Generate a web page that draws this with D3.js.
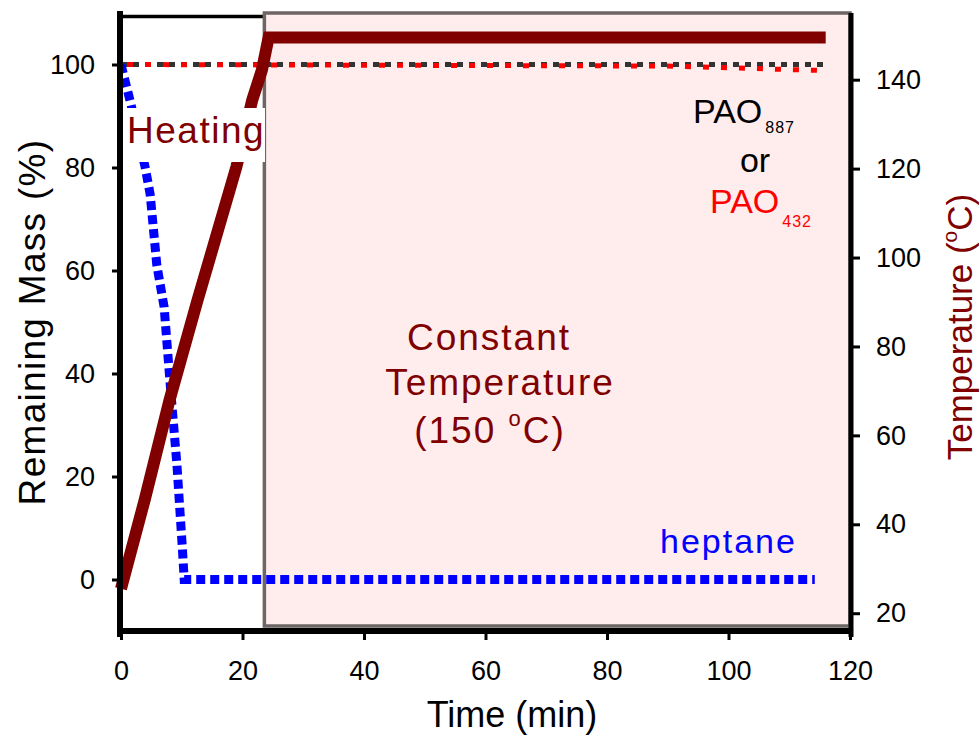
<!DOCTYPE html>
<html>
<head>
<meta charset="utf-8">
<script src="https://cdn.jsdelivr.net/npm/d3@7"></script>
<style>
  body { margin: 0; background: #fff; }
  svg text { font-family: "Liberation Sans", Arial, sans-serif; }
</style>
</head>
<body>
<script>
// values
var heptaneTime = [0, 0.7, 1.65, 2.8, 3.95, 4.8, 5.9, 7.1, 8.2, 9.2, 10.1, 10.4, 114.2];
var heptaneMass = [100, 96.7, 92.2, 86, 80.2, 74.8, 61, 52.9, 36.4, 22.4, 6.1, 0, 0];
var pao887Time = [0, 116.5];
var pao887Mass = [100, 100];
var pao432Time = [0, 90, 116.5];
var pao432Mass = [100, 99.7, 98.8];
var tempTime = [0, 3.9, 8, 12.6, 19, 21.6, 23.2, 24.3, 116];
var tempValue = [25.5, 45.5, 68, 90.4, 120.4, 135.4, 142.2, 149.5, 149.5];
var heatEnd = 23.6; // constant temperature zone starts here
var xTicks = [0, 20, 40, 60, 80, 100, 120];
var massTicks = [0, 20, 40, 60, 80, 100];
var tempTicks = [20, 40, 60, 80, 100, 120, 140];

var darkRed = '#800000';

var svg = d3.select('body').append('svg')
  .attr('width', 979)
  .attr('height', 736);

var x = d3.scaleLinear().domain([0, 120]).range([121, 850]);
var yMass = d3.scaleLinear().domain([-10, 110]).range([631, 13]);
var yTemp = d3.scaleLinear().domain([16, 155]).range([631, 13]);

// top frame line (left part, the pink zone covers the rest)
svg.append('line')
  .attr('x1', 117).attr('x2', x(heatEnd))
  .attr('y1', 16.5).attr('y2', 16.5)
  .attr('stroke', 'black').attr('stroke-width', 3.5);

// constant temperature zone
svg.append('rect')
  .attr('x', x(heatEnd))
  .attr('y', 13)
  .attr('width', x(120) - x(heatEnd))
  .attr('height', 626 - 13)
  .attr('fill', '#ffecec')
  .attr('stroke', '#6e6666')
  .attr('stroke-width', 3.5);

var massLine = function(ts, vs) {
  return d3.line()
    .x(function(d, i) { return x(ts[i]); })
    .y(function(d, i) { return yMass(vs[i]); })(vs);
};

// PAO 887 (black dash) and PAO 432 (red dots)
svg.append('path')
  .attr('d', massLine(pao887Time, pao887Mass))
  .attr('fill', 'none')
  .attr('stroke', '#333')
  .attr('stroke-width', 5)
  .attr('stroke-dasharray', '6,6');
svg.append('path')
  .attr('d', massLine(pao432Time, pao432Mass))
  .attr('fill', 'none')
  .attr('stroke', '#ff0000')
  .attr('stroke-width', 5)
  .attr('stroke-dasharray', '6,12')
  .attr('stroke-dashoffset', -6);

// heptane
svg.append('path')
  .attr('d', massLine(heptaneTime, heptaneMass))
  .attr('fill', 'none')
  .attr('stroke', '#0000ff')
  .attr('stroke-width', 9)
  .attr('stroke-dasharray', '9,5');

// temperature
var tempPath = d3.line()
  .x(function(d, i) { return x(tempTime[i]); })
  .y(function(d) { return yTemp(d); });
svg.append('path')
  .attr('d', tempPath(tempValue))
  .attr('fill', 'none')
  .attr('stroke', darkRed)
  .attr('stroke-width', 12)
  .attr('stroke-linejoin', 'miter');

// Heating label with white box
svg.append('rect')
  .attr('x', 124).attr('y', 108)
  .attr('width', 141).attr('height', 54)
  .attr('fill', 'white');
svg.append('text')
  .attr('x', 127).attr('y', 143)
  .attr('font-size', 37)
  .attr('letter-spacing', 1.5)
  .attr('fill', darkRed)
  .text('Heating');

// frame lines
svg.append('line')
  .attr('x1', 120).attr('x2', 120).attr('y1', 11).attr('y2', 637)
  .attr('stroke', 'black').attr('stroke-width', 6);
svg.append('line')
  .attr('x1', 117).attr('x2', 853).attr('y1', 631).attr('y2', 631)
  .attr('stroke', 'black').attr('stroke-width', 6);
svg.append('line')
  .attr('x1', 851).attr('x2', 851).attr('y1', 13).attr('y2', 637)
  .attr('stroke', 'black').attr('stroke-width', 5);

// axes
var styleAxis = function(g) {
  g.select('.domain').remove();
  g.selectAll('.tick line').attr('stroke', 'black').attr('stroke-width', 3);
  g.selectAll('.tick text')
    .attr('font-size', 27)
    .attr('fill', 'black')
    .style('font-family', '"Liberation Sans", Arial, sans-serif');
};

svg.append('g')
  .attr('transform', 'translate(120,0)')
  .call(d3.axisLeft(yMass).tickValues(massTicks).tickSize(8).tickPadding(17))
  .call(styleAxis);

svg.append('g')
  .attr('transform', 'translate(0,631)')
  .call(d3.axisBottom(x).tickValues(xTicks).tickSize(9).tickPadding(21))
  .call(styleAxis);

svg.append('g')
  .attr('transform', 'translate(851,0)')
  .call(d3.axisRight(yTemp).tickValues(tempTicks).tickSize(9).tickPadding(16))
  .call(styleAxis);

// axis titles
svg.append('text')
  .attr('transform', 'translate(512,727)')
  .attr('text-anchor', 'middle')
  .attr('font-size', 36)
  .text('Time (min)');

svg.append('text')
  .attr('transform', 'translate(45,322) rotate(-90)')
  .attr('text-anchor', 'middle')
  .attr('font-size', 37)
  .attr('letter-spacing', 1.3)
  .text('Remaining Mass (%)');

var tTitle = svg.append('text')
  .attr('transform', 'translate(972,327) rotate(-90)')
  .attr('text-anchor', 'middle')
  .attr('font-size', 35)
  .attr('fill', darkRed);
tTitle.append('tspan').text('Temperature (');
tTitle.append('tspan').attr('dy', -15).attr('font-size', 21).text('o');
tTitle.append('tspan').attr('dy', 15).text('C)');

// annotations
var ct = svg.append('text')
  .attr('font-size', 37)
  .attr('fill', darkRed)
  .attr('text-anchor', 'middle')
  .attr('letter-spacing', 2);
ct.append('tspan').attr('x', 489).attr('y', 350).text('Constant');
ct.append('tspan').attr('x', 500).attr('y', 395).text('Temperature');
ct.append('tspan').attr('x', 490).attr('y', 443).text('(150 ');
ct.append('tspan').attr('dy', -17).attr('font-size', 22).text('o');
ct.append('tspan').attr('dy', 17).text('C)');

var pao1 = svg.append('text').attr('x', 693).attr('y', 123).attr('font-size', 34).attr('fill', 'black');
pao1.append('tspan').text('PAO');
pao1.append('tspan').attr('dy', 10).attr('dx', 3).attr('font-size', 16).attr('letter-spacing', 1).text('887');

svg.append('text').attr('x', 755).attr('y', 172).attr('text-anchor', 'middle')
  .attr('font-size', 34).attr('fill', 'black').text('or');

var pao2 = svg.append('text').attr('x', 710).attr('y', 213).attr('font-size', 34).attr('fill', '#ff0000');
pao2.append('tspan').text('PAO');
pao2.append('tspan').attr('dy', 14).attr('dx', 3).attr('font-size', 16).attr('letter-spacing', 1).text('432');

svg.append('text').attr('x', 660).attr('y', 553)
  .attr('font-size', 34).attr('letter-spacing', 2)
  .attr('fill', '#0000ff').text('heptane');
</script>
</body>
</html>
